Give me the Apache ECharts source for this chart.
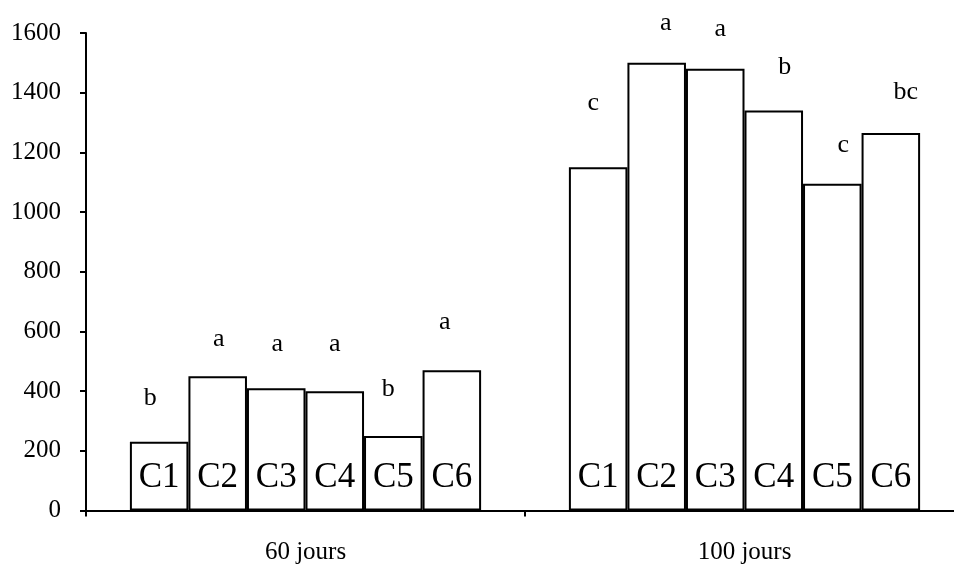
<!DOCTYPE html>
<html>
<head>
<meta charset="utf-8">
<script src="https://cdn.jsdelivr.net/npm/echarts@6/dist/echarts.min.js"></script>
<style>
html,body{margin:0;padding:0;background:#fff;}
#chart{width:954px;height:567px;}
</style>
</head>
<body>
<div id="chart"></div>
<script>
// ---- data ----
const categories = ['60 jours', '100 jours'];
const treatments = ['C1', 'C2', 'C3', 'C4', 'C5', 'C6'];
const values60 = [230, 450, 410, 400, 250, 470];
const values100 = [1150, 1500, 1480, 1340, 1095, 1265];
const letters60 = ['b', 'a', 'a', 'a', 'b', 'a'];
const letters100 = ['c', 'a', 'a', 'b', 'c', 'bc'];
const yTicks = { min: 0, max: 1600, interval: 200 };

// ---- layout (letter placement, px) ----
const letterGap60 = [31, 24, 31, 34, 34, 35];
const letterGap100 = [51, 27, 27, 30, 26, 28];
const letterDx60 = [-9, 1, 1, 0, -5, -7];
const letterDx100 = [-5, 9, 5, 11, 11, 15];

const FONT = "'Liberation Serif', 'Times New Roman', serif";

const series = [];
treatments.forEach((t, i) => {
  series.push({
    type: 'bar',
    name: t,
    stack: t,
    barGap: 0,
    barCategoryGap: '20%',
    data: [values60[i], values100[i]],
    itemStyle: { color: '#ffffff', borderColor: '#000000', borderWidth: 2 },
    label: {
      show: true,
      position: 'insideBottom',
      distance: 15,
      formatter: t,
      fontFamily: FONT,
      fontSize: 35,
      color: '#000'
    },
    emphasis: { disabled: true },
    silent: true
  });
  series.push({
    type: 'bar',
    name: t + '-letter',
    stack: t,
    barGap: 0,
    barCategoryGap: '20%',
    data: [
      { value: 0, label: { formatter: letters60[i], distance: letterGap60[i], offset: [letterDx60[i], 0] } },
      { value: 0, label: { formatter: letters100[i], distance: letterGap100[i], offset: [letterDx100[i], 0] } }
    ],
    itemStyle: { color: 'rgba(0,0,0,0)', borderWidth: 0 },
    label: {
      show: true,
      position: 'top',
      fontFamily: FONT,
      fontSize: 26,
      color: '#000'
    },
    emphasis: { disabled: true },
    silent: true
  });
});

const chart = echarts.init(document.getElementById('chart'), null, { renderer: 'canvas' });
chart.setOption({
  animation: false,
  backgroundColor: '#ffffff',
  grid: { left: 86, width: 878, top: 33, bottom: 56.5, containLabel: false, outerBoundsMode: 'none' },
  xAxis: {
    type: 'category',
    data: categories,
    axisLine: { show: true, lineStyle: { color: '#000', width: 2 } },
    axisTick: { show: true, length: 6, lineStyle: { color: '#000', width: 2 } },
    axisLabel: { margin: 29, fontFamily: FONT, fontSize: 25, color: '#000' },
    splitLine: { show: false }
  },
  yAxis: {
    type: 'value',
    min: yTicks.min,
    max: yTicks.max,
    interval: yTicks.interval,
    axisLine: { show: true, lineStyle: { color: '#000', width: 2 } },
    axisTick: { show: true, length: 6, lineStyle: { color: '#000', width: 2 } },
    axisLabel: { margin: 25, fontFamily: FONT, fontSize: 25, color: '#000', formatter: v => String(v) },
    splitLine: { show: false }
  },
  series: series
});
</script>
</body>
</html>
